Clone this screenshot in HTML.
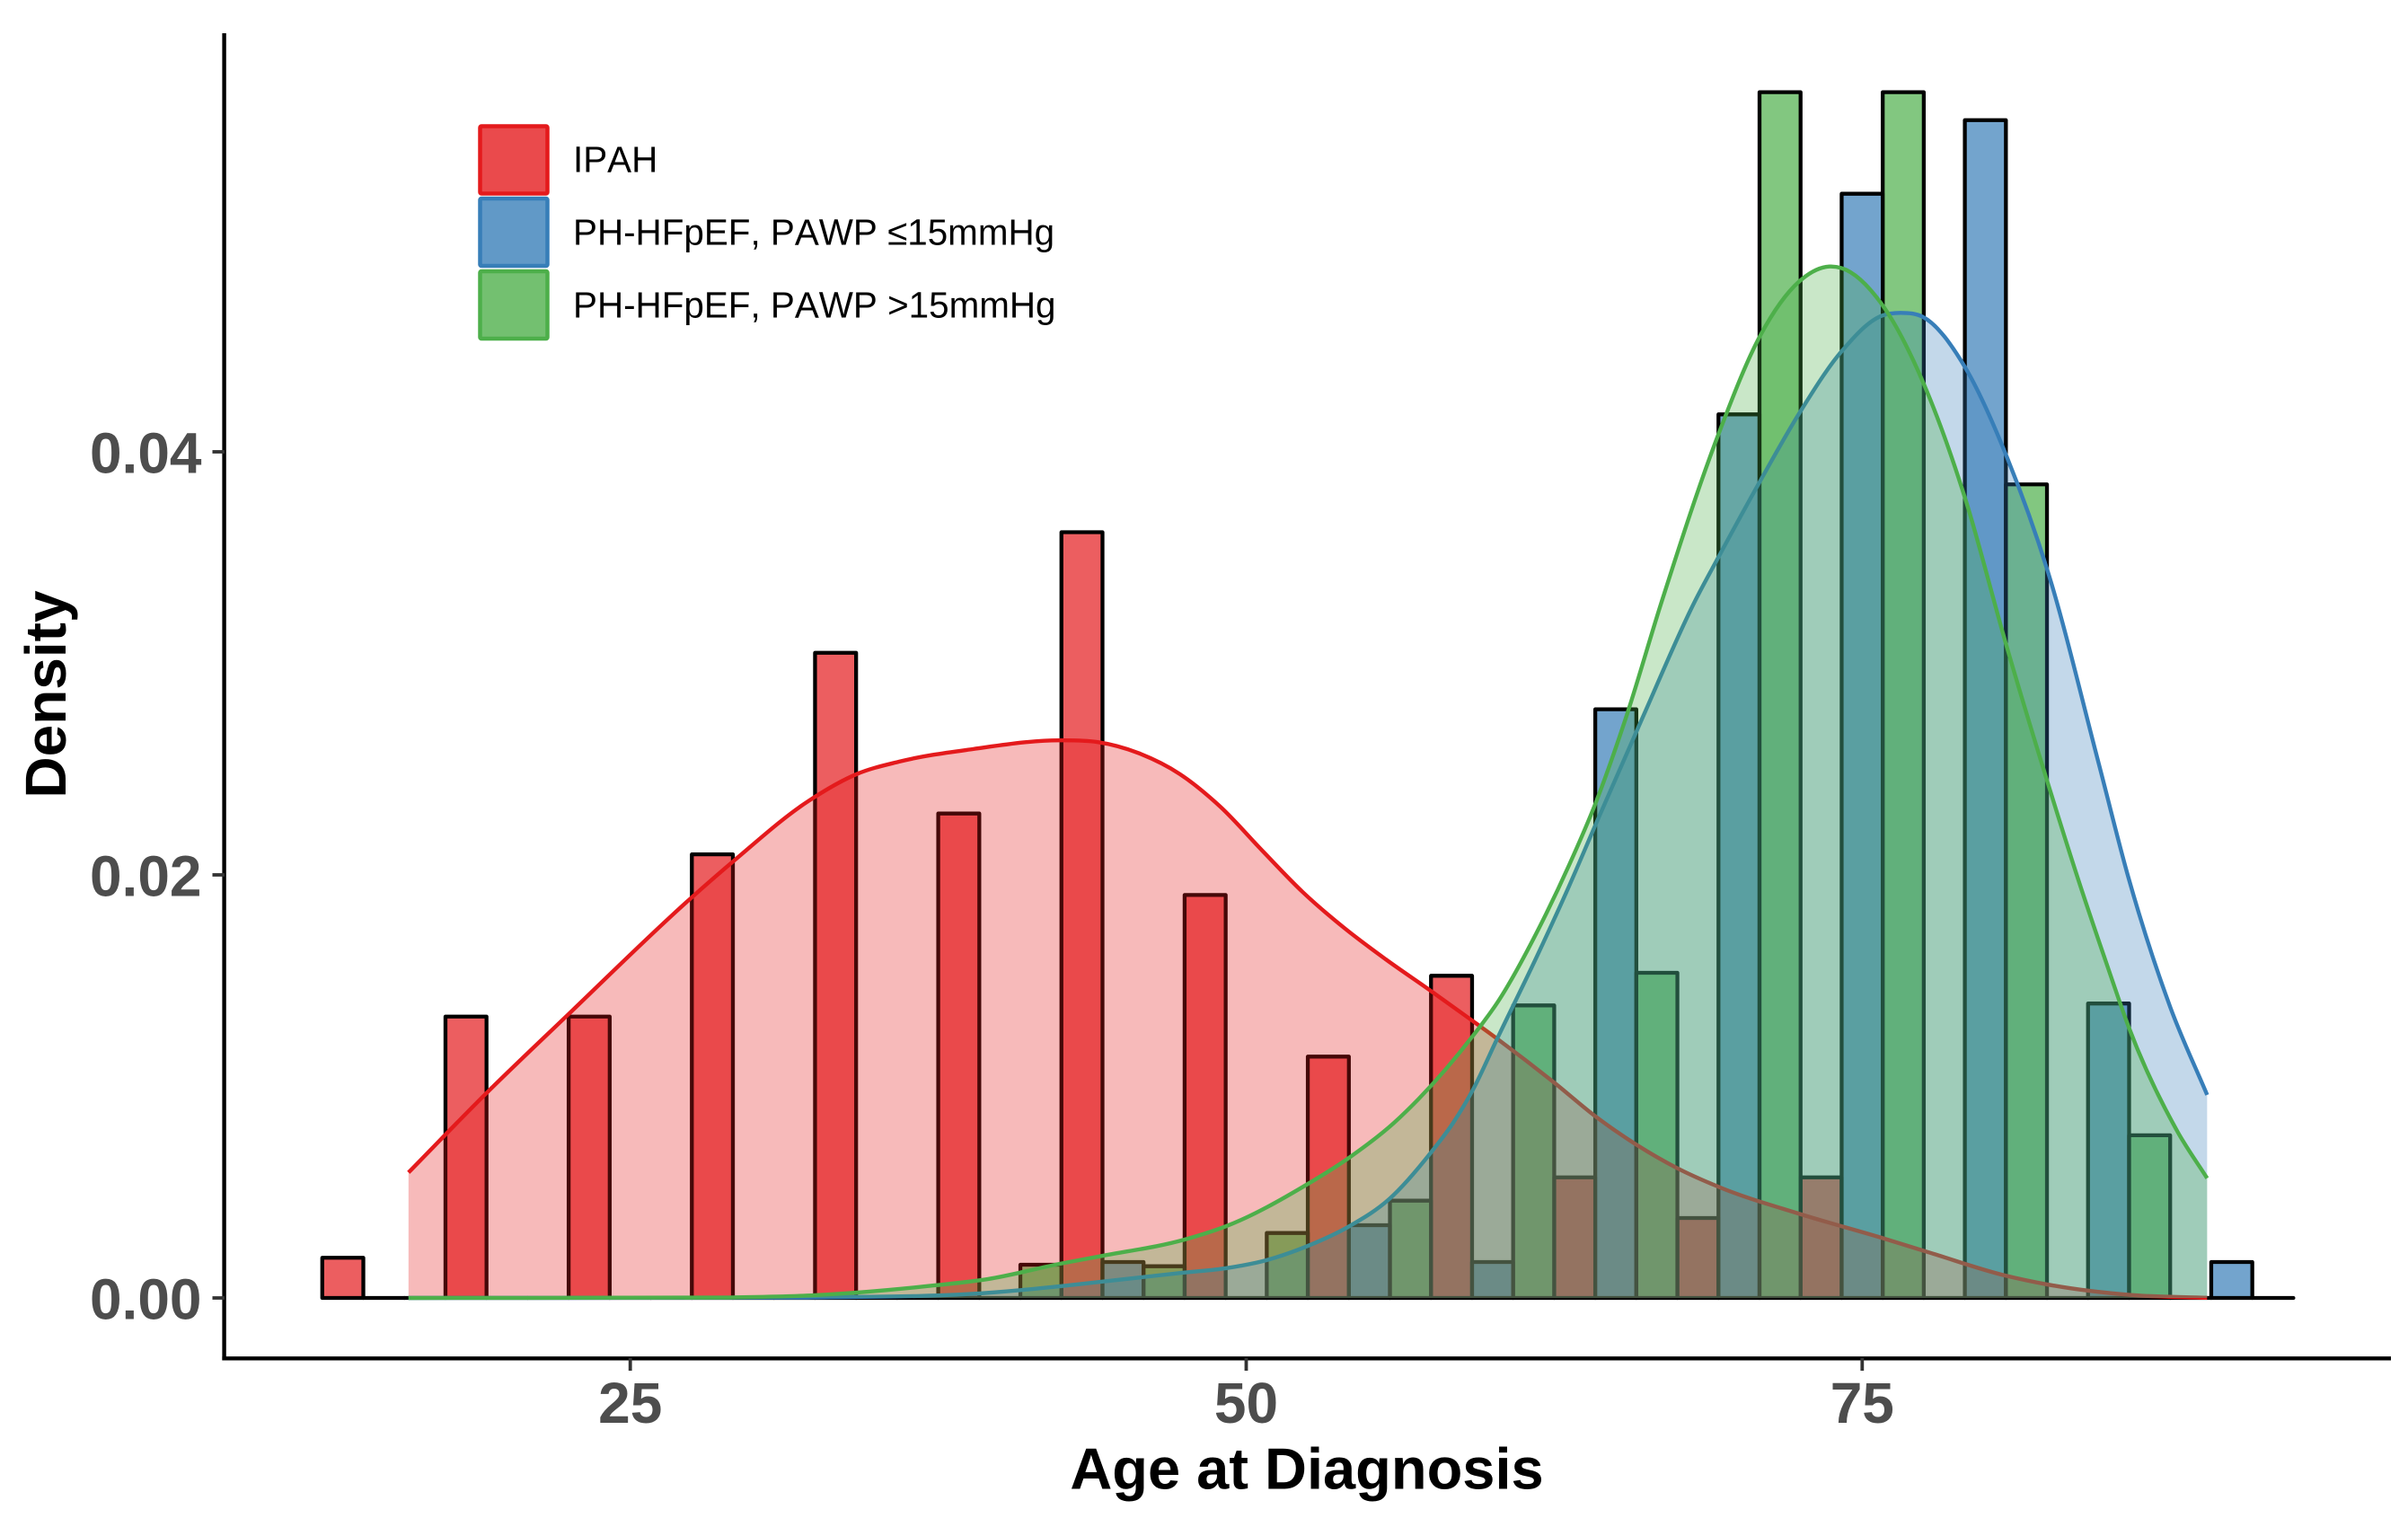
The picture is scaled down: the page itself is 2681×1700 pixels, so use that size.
<!DOCTYPE html>
<html lang="en">
<head>
<meta charset="utf-8">
<title>Age at Diagnosis density histogram</title>
<style>
html,body{margin:0;padding:0;background:#fff;}
svg{display:block;font-family:"Liberation Sans",Arial,sans-serif;}
</style>
</head>
<body>
<svg id="chart" xmlns="http://www.w3.org/2000/svg" width="2681" height="1700" viewBox="0 0 2681 1700">
  <rect x="0" y="0" width="2681" height="1700" fill="#ffffff"/>
  <g id="bars"></g>
  <g id="densities"></g>
  <g id="axes">
    <line x1="249.6" y1="37" x2="249.6" y2="1514.4" stroke="#000" stroke-width="4.4"/>
    <line x1="247.4" y1="1512.3" x2="2662" y2="1512.3" stroke="#000" stroke-width="4.4"/>
  </g>
  <text x="1455" y="1657.5" text-anchor="middle" font-size="65" font-weight="bold" fill="#000">Age at Diagnosis</text>
  <text transform="translate(73,773) rotate(-90)" text-anchor="middle" font-size="64" font-weight="bold" fill="#000">Density</text>
  <g style="font-kerning:none">
    <g>
      <rect x="534.5" y="140.5" width="75" height="75" rx="1.5" fill="#E41A1C" fill-opacity="0.79" stroke="#E41A1C" stroke-width="4.5"/>
      <text x="638" y="191.7" font-size="40.4" fill="#000">IPAH</text>
    </g>
    <g>
      <rect x="534.5" y="221" width="75" height="75" rx="1.5" fill="#377EB8" fill-opacity="0.79" stroke="#377EB8" stroke-width="4.5"/>
      <text x="638" y="272.3" font-size="40.4" fill="#000">PH-HFpEF, PAWP ≤15mmHg</text>
    </g>
    <g>
      <rect x="534.5" y="302" width="75" height="75" rx="1.5" fill="#4DAF4A" fill-opacity="0.79" stroke="#4DAF4A" stroke-width="4.5"/>
      <text x="638" y="353.3" font-size="40.4" fill="#000">PH-HFpEF, PAWP &gt;15mmHg</text>
    </g>
  </g>
</svg>
<script>
// ---- data ----
const binStartAges = [12.5,17.5,22.5,27.5,32.5,37.5,42.5,47.5,52.5,57.5,62.5,67.5,72.5,77.5,82.5,87.5];
const binWidthYears = 1.6667;
const ipahBinDensity = [0.0019,0.0133,0.0133,0.02097,0.0305,0.0229,0.0362,0.01905,0.01141,0.01523,0.0057,0.00378,0.0057,0,0,0];
const lowPawpBinDensity = [0,0,0,0,0,0,0.0017,0,0.00344,0.0017,0.02783,0.04177,0.0522,0.05568,0.01392,0.0017];
const highPawpBinDensity = [0,0,0,0,0,0.00157,0.0015,0.00307,0.0046,0.01383,0.01537,0.057,0.057,0.03846,0.00769,0];

const ipahCurveAges = [16,19.1,22.5,27.5,29.2,32.23,34.2,35.9,38.93,42.44,43.95,45.62,47.3,48.96,50.64,52.3,53.99,55.66,57.5,59.2,60.2,62.5,64.2,65.83,67.47,69.2,72.5,75.8,77.8,80.8,82.5,85.9,89];
const ipahCurveDensity = [0.00593,0.00961,0.01342,0.01894,0.02066,0.02349,0.02477,0.02535,0.02595,0.02636,0.02628,0.02576,0.02477,0.02321,0.02116,0.01918,0.01748,0.01601,0.01451,0.01309,0.01224,0.01018,0.00856,0.00725,0.00615,0.00524,0.00396,0.00284,0.00212,0.00106,0.00064,0.00014,0.00001];

const lowPawpCurveAges = [16,32,39.5,42.5,44.2,47.5,49.2,50.8,52.5,54.2,55.8,57.5,58.4,59.2,60.18,61.88,63.1,64.2,66.07,68.2,69.17,70.87,72.45,74.15,75.79,76.57,77.49,79.2,80.84,82.54,84.6,85.8,87.5,89];
const lowPawpCurveDensity = [0,0.00002,0.00024,0.00056,0.00078,0.0012,0.00141,0.00178,0.00246,0.0034,0.00467,0.00688,0.00828,0.00984,0.01224,0.01635,0.01946,0.02243,0.02739,0.03291,0.03503,0.03864,0.04183,0.04473,0.04643,0.04657,0.04636,0.04395,0.03985,0.03432,0.02527,0.0199,0.01376,0.0096];

const highPawpCurveAges = [16,29,32.5,37.4,39.5,42.5,44.2,47.5,49.2,52.5,54.2,56,57,59.2,60.18,61.88,63.1,64.2,65.4,66.86,69.17,70.87,72.45,73.67,74.15,75.79,77.49,79.2,80.84,82.54,83.75,84.97,85.8,87.8,89];
const highPawpCurveDensity = [0,0.00002,0.00013,0.0006,0.00089,0.00163,0.002,0.00276,0.0034,0.00539,0.00665,0.00828,0.00941,0.01239,0.01394,0.01748,0.02045,0.02345,0.02739,0.03291,0.04084,0.04551,0.04806,0.04876,0.04869,0.04699,0.04324,0.03772,0.0309,0.02432,0.01985,0.01563,0.01286,0.00786,0.00566];

const xTickLabels = ["25","50","75"];
const yTickLabels = ["0.00","0.02","0.04"];

// ---- axis functions ----
function xScale(age){ return 701.7 + (age - 25) * 27.432; }
function yScale(density){ return 1445 - density * 23550; }

const SVG_NS = 'http://www.w3.org/2000/svg';
const barsGroup = document.getElementById('bars');
const densityGroup = document.getElementById('densities');
const axesGroup = document.getElementById('axes');

function barPath(startAge, value){
  const x0 = xScale(startAge), x1 = xScale(startAge + binWidthYears);
  const y0 = yScale(0), y1 = yScale(value);
  return 'M' + x0 + ' ' + y0 + 'V' + y1 + 'H' + x1 + 'V' + y0 + 'Z';
}

function drawBars(values, dodge, color, label){
  values.forEach(function(value, i){
    const el = document.createElementNS(SVG_NS, 'path');
    
    
    el.setAttribute('d', barPath(binStartAges[i] + dodge * binWidthYears, value));
    el.setAttribute('fill', color);
    el.setAttribute('fill-opacity', '0.7');
    el.setAttribute('stroke', '#000');
    el.setAttribute('stroke-width', '4.3');
    el.setAttribute('stroke-linejoin', 'round');
    barsGroup.appendChild(el);
  });
}

// smooth cubic through the read points
function curveSegments(ages, values){
  const px = ages.map(xScale), py = values.map(yScale), n = px.length;
  const d = [], m = [];
  for (let i = 0; i < n - 1; i++) d.push((py[i+1] - py[i]) / (px[i+1] - px[i]));
  m[0] = d[0];
  m[n-1] = d[n-2];
  for (let i = 1; i < n - 1; i++) {
    const h0 = px[i] - px[i-1], h1 = px[i+1] - px[i];
    m[i] = (h1 * d[i-1] + h0 * d[i]) / (h0 + h1);
  }
  let s = 'M' + px[0] + ' ' + py[0];
  for (let i = 0; i < n - 1; i++) {
    const h = (px[i+1] - px[i]) / 3;
    s += 'C' + (px[i] + h) + ' ' + Math.min(py[i] + m[i] * h, yScale(0)) + ' ' + (px[i+1] - h) + ' ' + Math.min(py[i+1] - m[i+1] * h, yScale(0)) + ' ' + px[i+1] + ' ' + py[i+1];
  }
  return s;
}

function drawDensity(ages, values, color, label){
  const top = curveSegments(ages, values);
  const fill = document.createElementNS(SVG_NS, 'path');
  
  
  fill.setAttribute('d', top + 'L' + xScale(ages[ages.length-1]) + ' ' + yScale(0) + 'L' + xScale(ages[0]) + ' ' + yScale(0) + 'Z');
  fill.setAttribute('fill', color);
  fill.setAttribute('fill-opacity', '0.3');
  fill.setAttribute('stroke', 'none');
  densityGroup.appendChild(fill);
  const line = document.createElementNS(SVG_NS, 'path');
  
  
  line.setAttribute('d', top);
  line.setAttribute('fill', 'none');
  line.setAttribute('stroke', color);
  line.setAttribute('stroke-width', '4.4');
  densityGroup.appendChild(line);
}

drawBars(ipahBinDensity, 0, '#E41A1C', 'ipah');
drawBars(lowPawpBinDensity, 1, '#377EB8', 'pawp-low');
drawBars(highPawpBinDensity, 2, '#4DAF4A', 'pawp-high');

drawDensity(ipahCurveAges, ipahCurveDensity, '#E41A1C', 'ipah');
drawDensity(lowPawpCurveAges, lowPawpCurveDensity, '#377EB8', 'pawp-low');
drawDensity(highPawpCurveAges, highPawpCurveDensity, '#4DAF4A', 'pawp-high');

xTickLabels.forEach(function(label){
  const x = xScale(parseFloat(label));
  const tick = document.createElementNS(SVG_NS, 'line');
  
  
  tick.setAttribute('x1', x);
  tick.setAttribute('x2', x);
  tick.setAttribute('y1', 1512);
  tick.setAttribute('y2', 1526);
  tick.setAttribute('stroke', '#333333');
  tick.setAttribute('stroke-width', '3.8');
  axesGroup.appendChild(tick);
  const text = document.createElementNS(SVG_NS, 'text');
  
  
  text.setAttribute('x', x);
  text.setAttribute('y', 1584);
  text.setAttribute('text-anchor', 'middle');
  text.setAttribute('font-size', '64');
  text.setAttribute('font-weight', 'bold');
  text.setAttribute('fill', '#4D4D4D');
  text.textContent = label;
  axesGroup.appendChild(text);
});

yTickLabels.forEach(function(label){
  const y = yScale(parseFloat(label));
  const tick = document.createElementNS(SVG_NS, 'line');
  
  
  tick.setAttribute('x1', 236.5);
  tick.setAttribute('x2', 250);
  tick.setAttribute('y1', y);
  tick.setAttribute('y2', y);
  tick.setAttribute('stroke', '#333333');
  tick.setAttribute('stroke-width', '3.8');
  axesGroup.appendChild(tick);
  const text = document.createElementNS(SVG_NS, 'text');
  
  
  text.setAttribute('x', 224.5);
  text.setAttribute('y', y + 23.5);
  text.setAttribute('text-anchor', 'end');
  text.setAttribute('font-size', '64');
  text.setAttribute('font-weight', 'bold');
  text.setAttribute('fill', '#4D4D4D');
  text.textContent = label;
  axesGroup.appendChild(text);
});
</script>
</body>
</html>
